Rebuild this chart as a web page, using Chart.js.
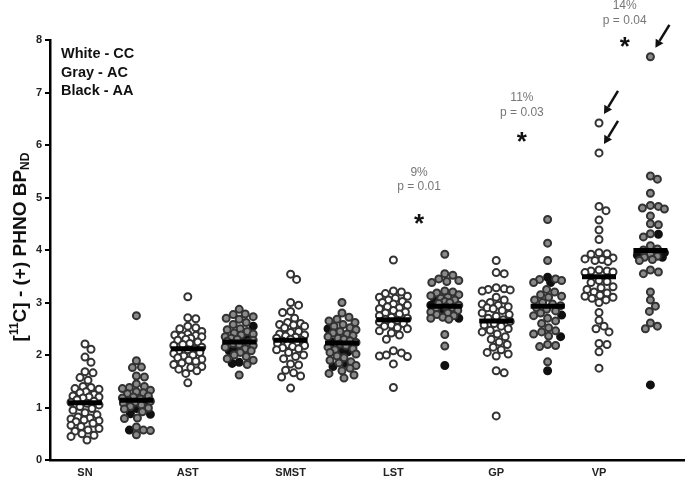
<!DOCTYPE html>
<html>
<head>
<meta charset="utf-8">
<script src="https://cdn.jsdelivr.net/npm/chart.js@4"></script>
<style>
  html, body { margin: 0; padding: 0; background: #fff; }
</style>
</head>
<body>
<canvas id="c" width="685" height="479"></canvas>
<script>
// regions on the x axis
const regions = ['SN', 'AST', 'SMST', 'LST', 'GP', 'VP'];

// CC (white), AC (gray) and AA (black) values per region
const snCC = [2.21, 2.11, 1.96, 1.86, 1.68, 1.66, 1.57, 1.52, 1.40, 1.38, 1.36, 1.35, 1.30, 1.28, 1.25, 1.22, 1.20, 1.20, 1.18, 1.15, 1.12, 1.10, 1.08, 1.05, 1.02, 0.98, 0.95, 0.90, 0.86, 0.82, 0.80, 0.78, 0.76, 0.75, 0.73, 0.70, 0.66, 0.64, 0.60, 0.57, 0.55, 0.50, 0.47, 0.45, 0.38];
const snAC = [2.75, 1.89, 1.77, 1.76, 1.60, 1.58, 1.45, 1.40, 1.38, 1.36, 1.33, 1.30, 1.28, 1.26, 1.22, 1.20, 1.18, 1.16, 1.14, 1.12, 1.10, 1.08, 1.05, 1.02, 0.99, 0.97, 0.92, 0.80, 0.79, 0.63, 0.57, 0.56, 0.48];
const snAA = [1.13, 0.98, 0.88, 0.87, 0.57];

const astCC = [3.11, 2.71, 2.69, 2.55, 2.52, 2.50, 2.45, 2.40, 2.38, 2.37, 2.36, 2.35, 2.32, 2.30, 2.28, 2.25, 2.22, 2.20, 2.18, 2.15, 2.12, 2.10, 2.08, 2.05, 2.03, 2.00, 1.98, 1.95, 1.92, 1.90, 1.88, 1.85, 1.82, 1.78, 1.76, 1.73, 1.70, 1.65, 1.47];
const astAC = [2.87, 2.78, 2.77, 2.73, 2.70, 2.68, 2.62, 2.58, 2.50, 2.48, 2.45, 2.42, 2.40, 2.38, 2.35, 2.32, 2.30, 2.28, 2.26, 2.24, 2.22, 2.20, 2.18, 2.15, 2.12, 2.08, 2.05, 2.00, 1.97, 1.93, 1.90, 1.82, 1.62];
const astAA = [2.55, 2.35, 2.28, 2.12, 2.08, 1.86, 1.84];

const smstCC = [3.54, 3.44, 3.00, 2.95, 2.83, 2.81, 2.70, 2.62, 2.60, 2.58, 2.57, 2.55, 2.52, 2.45, 2.43, 2.40, 2.38, 2.36, 2.34, 2.32, 2.30, 2.28, 2.26, 2.24, 2.22, 2.20, 2.18, 2.16, 2.14, 2.12, 2.10, 2.05, 2.00, 1.97, 1.93, 1.83, 1.81, 1.71, 1.66, 1.60, 1.58, 1.37];
const smstAC = [3.00, 2.80, 2.72, 2.68, 2.65, 2.62, 2.58, 2.55, 2.52, 2.48, 2.45, 2.42, 2.40, 2.37, 2.35, 2.32, 2.30, 2.27, 2.24, 2.21, 2.18, 2.15, 2.12, 2.10, 2.05, 2.02, 1.98, 1.95, 1.90, 1.87, 1.85, 1.80, 1.75, 1.70, 1.65, 1.62, 1.56];
const smstAA = [2.50, 2.25, 2.08, 2.06, 1.84, 1.78];

const lstCC = [3.81, 3.22, 3.20, 3.17, 3.12, 3.10, 3.08, 3.05, 3.02, 3.00, 2.97, 2.95, 2.92, 2.90, 2.88, 2.85, 2.82, 2.80, 2.78, 2.75, 2.72, 2.70, 2.68, 2.66, 2.63, 2.60, 2.57, 2.55, 2.52, 2.50, 2.46, 2.42, 2.38, 2.30, 2.08, 2.04, 2.00, 1.98, 1.97, 1.83, 1.38];
const lstAC = [3.92, 3.55, 3.52, 3.45, 3.42, 3.40, 3.38, 3.22, 3.20, 3.18, 3.15, 3.13, 3.10, 3.08, 3.05, 3.02, 3.00, 2.98, 2.95, 2.92, 2.90, 2.88, 2.85, 2.82, 2.80, 2.77, 2.75, 2.72, 2.70, 2.68, 2.39, 2.17];
const lstAA = [3.05, 2.95, 2.86, 2.70, 1.80];

const gpCC = [3.80, 3.57, 3.55, 3.28, 3.26, 3.25, 3.24, 3.22, 3.10, 3.05, 3.00, 2.97, 2.95, 2.92, 2.90, 2.88, 2.85, 2.80, 2.77, 2.74, 2.70, 2.67, 2.64, 2.60, 2.57, 2.55, 2.50, 2.47, 2.44, 2.40, 2.35, 2.30, 2.25, 2.20, 2.15, 2.10, 2.05, 2.02, 1.98, 1.70, 1.66, 0.84];
const gpAC = [4.58, 4.13, 3.80, 3.45, 3.44, 3.42, 3.38, 3.25, 3.20, 3.15, 3.12, 3.10, 3.05, 3.00, 2.97, 2.94, 2.90, 2.87, 2.84, 2.80, 2.75, 2.70, 2.65, 2.60, 2.52, 2.46, 2.44, 2.40, 2.36, 2.20, 2.18, 2.16, 1.87];
const gpAA = [3.48, 3.38, 2.76, 2.35, 1.70];

const vpCC = [6.42, 5.85, 4.83, 4.75, 4.57, 4.38, 4.20, 3.95, 3.93, 3.92, 3.85, 3.83, 3.82, 3.80, 3.78, 3.62, 3.60, 3.60, 3.58, 3.57, 3.42, 3.40, 3.38, 3.30, 3.28, 3.25, 3.20, 3.18, 3.14, 3.12, 3.10, 3.08, 3.05, 3.00, 2.81, 2.66, 2.55, 2.50, 2.44, 2.22, 2.20, 2.06, 1.75];
const vpAC = [7.68, 5.41, 5.35, 5.08, 4.85, 4.83, 4.80, 4.78, 4.65, 4.50, 4.48, 4.31, 4.25, 4.08, 4.02, 4.00, 3.92, 3.88, 3.86, 3.82, 3.80, 3.62, 3.58, 3.55, 3.20, 3.05, 2.93, 2.83, 2.61, 2.55, 2.50];
const vpAA = [4.30, 3.95, 3.90, 3.86, 1.43];

// group means (black bars)
const meanCC = [1.09, 2.12, 2.28, 2.67, 2.65, 3.49];
const meanAC = [1.14, 2.25, 2.23, 2.93, 2.93, 3.99];

// significance notes: region index, text, and heights in axis units
const sigRegion = [3, 4, 5];
const sigPct = ['9%', '11%', '14%'];
const sigP = ['p = 0.01', 'p = 0.03', 'p = 0.04'];
const sigPctY = [5.47, 6.90, 8.65];
const sigPY = [5.20, 6.61, 8.36];
const sigStarY = [4.63, 6.19, 8.00];

// arrows pointing at the outliers: column and value
const arrowCol = [11, 10, 10];
const arrowVal = [7.68, 6.42, 5.85];

const ccAll = [snCC, astCC, smstCC, lstCC, gpCC, vpCC];
const acAll = [snAC, astAC, smstAC, lstAC, gpAC, vpAC];
const aaAll = [snAA, astAA, smstAA, lstAA, gpAA, vpAA];

// beeswarm: spread points sideways, kept inside a fixed column width
const PX_X = 51.4, PX_Y = 52.5, GAP = 7.5, MAXOFF = 14;
function swarm(values) {
  const order = values.map((v, i) => i).sort((a, b) => values[b] - values[a]);
  const placed = [];
  const off = new Array(values.length).fill(0);
  order.forEach(i => {
    const y = values[i] * PX_Y;
    let best = 0, bestD = -1;
    for (let k = 0; k <= 2 * MAXOFF; k++) {
      const dx = k % 2 ? (k + 1) / 2 : -k / 2;
      let dmin = Infinity;
      placed.forEach(p => {
        const d = Math.hypot(p.x - dx, p.y - y);
        if (d < dmin) dmin = d;
      });
      if (dmin >= GAP) { best = dx; break; }
      if (dmin > bestD) { bestD = dmin; best = dx; }
    }
    placed.push({ x: best, y: y });
    off[i] = best / PX_X;
  });
  return off;
}

const whitePts = [], grayPts = [], blackPts = [], meanPts = [];
regions.forEach((r, i) => {
  const cc = ccAll[i];
  const ccOff = swarm(cc);
  cc.forEach((v, j) => whitePts.push({ x: 2 * i + ccOff[j], y: v }));

  const ac = acAll[i].concat(aaAll[i]);
  const acOff = swarm(ac);
  ac.forEach((v, j) => {
    const p = { x: 2 * i + 1 + acOff[j], y: v };
    if (j < acAll[i].length) grayPts.push(p); else blackPts.push(p);
  });

  meanPts.push({ x: 2 * i, y: meanCC[i] });
  meanPts.push({ x: 2 * i + 1, y: meanAC[i] });
});

const FONT = '"Liberation Sans", Arial, sans-serif';

// legend text, axis title, stars, p values, arrows
const decor = {
  id: 'decor',
  afterDraw(chart) {
    const ctx = chart.ctx;
    const xs = chart.scales.x, ys = chart.scales.y;
    ctx.save();

    // legend in the corner
    ctx.fillStyle = '#111';
    ctx.font = 'bold 14.5px ' + FONT;
    ctx.textAlign = 'left';
    ctx.textBaseline = 'middle';
    ['White - CC', 'Gray - AC', 'Black - AA'].forEach((t, i) => {
      ctx.fillText(t, 61, 54 + i * 18.5);
    });

    // y axis title with super/subscript
    ctx.save();
    ctx.translate(21, 247);
    ctx.rotate(-Math.PI / 2);
    const parts = [['[', 0], ['11', -6], ['C] - (+) PHNO BP', 0], ['ND', 5]];
    const big = 'bold 19px ' + FONT, small = 'bold 12px ' + FONT;
    let total = 0;
    parts.forEach(p => { ctx.font = p[1] ? small : big; total += ctx.measureText(p[0]).width; });
    let x = -total / 2;
    parts.forEach(p => {
      ctx.font = p[1] ? small : big;
      ctx.fillText(p[0], x, p[1]);
      x += ctx.measureText(p[0]).width;
    });
    ctx.restore();

    // significance labels
    sigRegion.forEach((r, i) => {
      const cx = xs.getPixelForValue(2 * r + 0.5);
      ctx.textAlign = 'center';
      ctx.textBaseline = 'middle';
      ctx.fillStyle = '#777';
      ctx.font = '12px ' + FONT;
      ctx.fillText(sigPct[i], cx, ys.getPixelForValue(sigPctY[i]));
      ctx.fillText(sigP[i], cx, ys.getPixelForValue(sigPY[i]));
      ctx.fillStyle = '#111';
      ctx.font = 'bold 26px ' + FONT;
      ctx.textBaseline = 'alphabetic';
      ctx.fillText('*', cx, ys.getPixelForValue(sigStarY[i]) + 15);
    });

    // arrows
    ctx.strokeStyle = '#111';
    ctx.fillStyle = '#111';
    ctx.lineWidth = 2.5;
    arrowCol.forEach((c, i) => {
      const px = xs.getPixelForValue(c), py = ys.getPixelForValue(arrowVal[i]);
      const tipX = px + 5, tipY = py - 9;
      const tailX = tipX + 14, tailY = tipY - 23;
      const ang = Math.atan2(tipY - tailY, tipX - tailX);
      const hx = tipX - Math.cos(ang) * 8, hy = tipY - Math.sin(ang) * 8;
      ctx.beginPath();
      ctx.moveTo(tailX, tailY);
      ctx.lineTo(hx, hy);
      ctx.stroke();
      ctx.beginPath();
      ctx.moveTo(tipX, tipY);
      ctx.lineTo(hx + Math.sin(ang) * 4.5, hy - Math.cos(ang) * 4.5);
      ctx.lineTo(hx - Math.sin(ang) * 4.5, hy + Math.cos(ang) * 4.5);
      ctx.closePath();
      ctx.fill();
    });

    ctx.restore();
  }
};

const dot = (fill, line) => ({
  pointRadius: 3.5,
  pointBorderWidth: 2,
  pointBackgroundColor: fill,
  pointBorderColor: line,
  pointHoverRadius: 3.5,
  showLine: false,
  order: 1,
  clip: false
});

new Chart(document.getElementById('c'), {
  type: 'scatter',
  data: {
    datasets: [
      Object.assign({ label: 'CC', data: whitePts }, dot('#ffffff', '#333333')),
      Object.assign({ label: 'AC', data: grayPts }, dot('#8a8a8a', '#333333')),
      Object.assign({ label: 'AA', data: blackPts }, dot('#111111', '#111111')),
      {
        label: 'mean',
        data: meanPts,
        pointStyle: 'line',
        pointRadius: 17,
        pointHoverRadius: 17,
        pointBorderWidth: 5,
        pointBorderColor: '#000',
        showLine: false,
        order: 0,
        clip: false
      }
    ]
  },
  options: {
    responsive: false,
    animation: false,
    devicePixelRatio: 1,
    layout: { autoPadding: false, padding: { top: 40, left: 0, right: 0, bottom: 0 } },
    plugins: { legend: { display: false }, tooltip: { enabled: false } },
    scales: {
      x: {
        type: 'linear',
        min: -0.681,
        max: 11.673,
        afterFit: s => { s.height = 19; },
        afterBuildTicks: s => { s.ticks = regions.map((r, i) => ({ value: 2 * i })); },
        ticks: {
          callback: v => regions[v / 2],
          font: { family: FONT, weight: 'bold', size: 11 },
          color: '#222',
          padding: 6,
          maxRotation: 0,
          autoSkip: false
        },
        grid: { display: false, drawTicks: false },
        border: { color: '#000', width: 2.5 }
      },
      y: {
        min: 0,
        max: 8,
        afterFit: s => { s.width = 50; },
        ticks: {
          stepSize: 1,
          font: { family: FONT, weight: 'bold', size: 11 },
          color: '#222',
          padding: 3
        },
        grid: { drawOnChartArea: false, drawTicks: true, tickLength: 5, color: '#000', lineWidth: 2 },
        border: { color: '#000', width: 2.5 }
      }
    }
  },
  plugins: [decor]
});
</script>
</body>
</html>
